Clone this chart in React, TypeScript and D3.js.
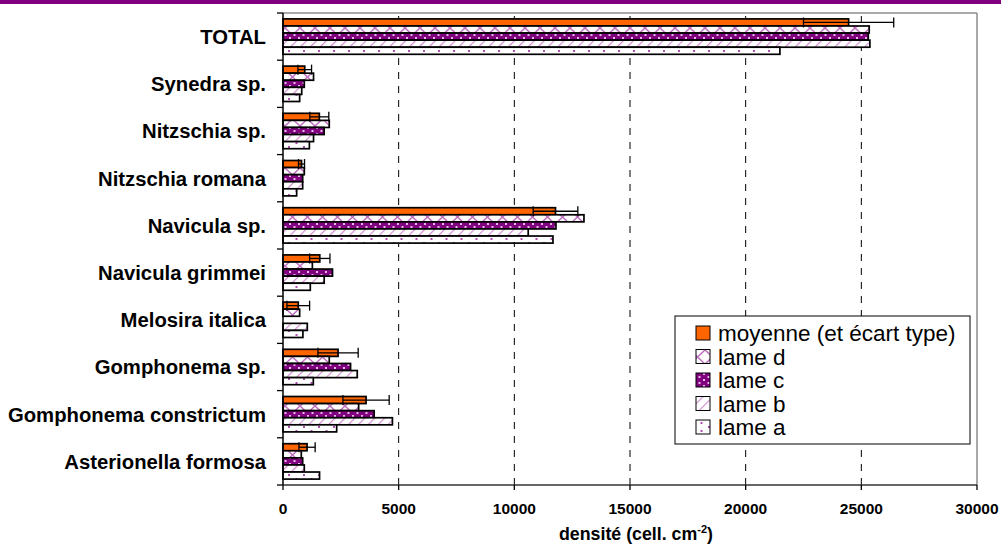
import React from "react";
import * as d3 from "d3";

const categories = [
  "TOTAL",
  "Synedra sp.",
  "Nitzschia sp.",
  "Nitzschia romana",
  "Navicula sp.",
  "Navicula grimmei",
  "Melosira italica",
  "Gomphonema sp.",
  "Gomphonema constrictum",
  "Asterionella formosa",
];

const seriesNames = ["moyenne (et écart type)", "lame d", "lame c", "lame b", "lame a"];
const seriesKeys = ["moy", "d", "c", "b", "a"];

const moyenne = [24450, 940, 1570, 800, 11780, 1590, 660, 2380, 3590, 1040];
const ecartType = [1950, 295, 410, 130, 965, 440, 490, 870, 1000, 350];
const lameD = [25340, 1320, 2000, 920, 13010, 1270, 720, 2000, 3270, 790];
const lameC = [25300, 920, 1780, 850, 11800, 2140, 0, 2920, 3940, 850];
const lameB = [25370, 810, 1320, 850, 10600, 1780, 1050, 3210, 4730, 920];
const lameA = [21480, 720, 1140, 590, 11670, 1180, 860, 1310, 2320, 1580];

const xTicks = [0, 5000, 10000, 15000, 20000, 25000, 30000];

const seriesValues = [moyenne, lameD, lameC, lameB, lameA];

const W = 1001;
const H = 552;
const M = { left: 283, right: 977, top: 13, bottom: 485 };

const PURPLE = "#800080";

function Patterns() {
  return (
    <defs>
      <pattern id="pat-d" patternUnits="userSpaceOnUse" width="15" height="14">
        <rect width="15" height="14" fill="#ffffff" />
        <path d="M0,0 L15,14 M15,0 L0,14" stroke="#C070C0" strokeWidth="1.5" fill="none" />
      </pattern>
      <pattern id="pat-c" patternUnits="userSpaceOnUse" width="9" height="6">
        <rect width="9" height="6" fill={PURPLE} />
        <rect x="1" y="1" width="2" height="2" fill="#E6B8E6" />
        <rect x="5.5" y="4" width="2" height="2" fill="#E6B8E6" />
      </pattern>
      <pattern id="pat-b" patternUnits="userSpaceOnUse" width="7" height="7" patternTransform="rotate(45)">
        <rect width="7" height="7" fill="#ffffff" />
        <line x1="0" y1="0" x2="0" y2="7" stroke="#D08ED0" strokeWidth="2.4" />
      </pattern>
      <pattern id="pat-a" patternUnits="userSpaceOnUse" width="15" height="8">
        <rect width="15" height="8" fill="#ffffff" />
        <rect x="3" y="2" width="2" height="2" fill="#B050B0" />
        <rect x="10.5" y="6" width="2" height="2" fill="#B050B0" />
      </pattern>
    </defs>
  );
}

const fills: Record<string, string> = {
  moy: "#FF6600",
  d: "url(#pat-d)",
  c: "url(#pat-c)",
  b: "url(#pat-b)",
  a: "url(#pat-a)",
};

export default function App() {
  const x = d3.scaleLinear().domain([0, 30000]).range([M.left, M.right]);
  const y = d3
    .scaleBand<string>()
    .domain(categories)
    .range([M.top, M.bottom])
    .paddingInner(0.25)
    .paddingOuter(0.125);
  const ys = d3.scaleBand<string>().domain(seriesKeys).range([0, y.bandwidth()]);
  const step = (M.bottom - M.top) / categories.length;

  const legendX = 675;
  const legendY = 316;
  const legendRow = 23.5;

  return (
    <svg
      width={W}
      height={H}
      style={{ position: "absolute", left: 0, top: 0, background: "#fff" }}
      fontFamily="Liberation Sans, Arial, sans-serif"
    >
      <Patterns />
      <rect x={0} y={0} width={W} height={H} fill="#ffffff" />
      <rect x={0} y={0} width={W} height={4} fill={PURPLE} />

      {/* gridlines */}
      {xTicks.slice(1, -1).map((t) => (
        <line
          key={"g" + t}
          x1={x(t)}
          x2={x(t)}
          y1={M.top}
          y2={M.bottom}
          stroke="#000"
          strokeWidth={1}
          strokeDasharray="7,7"
          strokeDashoffset={-3}
        />
      ))}

      {/* plot border (top/right) */}
      <line x1={M.left} x2={M.right} y1={M.top} y2={M.top} stroke="#8c8c8c" strokeWidth={1.5} />
      <line x1={M.right} x2={M.right} y1={M.top} y2={M.bottom} stroke="#8c8c8c" strokeWidth={1.5} />

      {/* bars */}
      {categories.map((cat, i) =>
        seriesKeys.map((k, s) => {
          const v = seriesValues[s][i];
          if (!v) return null;
          const y0 = (y(cat) as number) + (ys(k) as number);
          return (
            <rect
              key={cat + k}
              x={x(0)}
              y={y0}
              width={x(v) - x(0)}
              height={ys.bandwidth()}
              fill={fills[k]}
              stroke="#000"
              strokeWidth={1.7}
            />
          );
        })
      )}

      {/* error bars */}
      {categories.map((cat, i) => {
        const cy = (y(cat) as number) + (ys("moy") as number) + ys.bandwidth() / 2;
        const lo = x(moyenne[i] - ecartType[i]);
        const hi = x(moyenne[i] + ecartType[i]);
        return (
          <g key={"e" + cat} stroke="#000" strokeWidth={1.3}>
            <line x1={lo} x2={hi} y1={cy} y2={cy} />
            <line x1={lo} x2={lo} y1={cy - 5} y2={cy + 5} />
            <line x1={hi} x2={hi} y1={cy - 5} y2={cy + 5} />
          </g>
        );
      })}

      {/* left axis */}
      <line x1={M.left} x2={M.left} y1={M.top} y2={M.bottom} stroke="#000" strokeWidth={1.5} />
      {d3.range(categories.length + 1).map((j) => (
        <line
          key={"yt" + j}
          x1={M.left - 6}
          x2={M.left}
          y1={M.top + j * step}
          y2={M.top + j * step}
          stroke="#000"
          strokeWidth={1.3}
        />
      ))}
      {categories.map((cat) => (
        <text
          key={"yl" + cat}
          x={266}
          y={(y(cat) as number) + y.bandwidth() / 2}
          dy="0.36em"
          textAnchor="end"
          fontWeight="bold"
          fontSize={20.3}
          fill="#000"
        >
          {cat}
        </text>
      ))}

      {/* bottom axis */}
      <line x1={M.left} x2={M.right} y1={M.bottom} y2={M.bottom} stroke="#333" strokeWidth={1.5} />
      {xTicks.map((t) => (
        <g key={"xt" + t}>
          <line x1={x(t)} x2={x(t)} y1={M.bottom} y2={M.bottom + 5} stroke="#000" strokeWidth={1.3} />
          <text x={x(t)} y={514} textAnchor="middle" fontWeight="bold" fontSize={15.5} fill="#000">
            {t}
          </text>
        </g>
      ))}
      <text x={636} y={540} textAnchor="middle" fontWeight="bold" fontSize={17.8} fill="#000">
        densité (cell. cm
        <tspan dy={-7} fontSize={11}>
          -2
        </tspan>
        <tspan dy={7}>)</tspan>
      </text>

      {/* legend */}
      <rect
        x={legendX}
        y={legendY}
        width={295}
        height={128}
        fill="#ffffff"
        stroke="#000"
        strokeWidth={1}
      />
      {seriesNames.map((name, s) => {
        const cy = 333 + s * legendRow;
        return (
          <g key={"lg" + name}>
            <rect
              x={696}
              y={cy - 7}
              width={14}
              height={14}
              fill={fills[seriesKeys[s]]}
              stroke="#000"
              strokeWidth={1}
            />
            <text x={718} y={cy} dy="0.36em" fontSize={22.5} fill="#000">
              {name}
            </text>
          </g>
        );
      })}
    </svg>
  );
}
